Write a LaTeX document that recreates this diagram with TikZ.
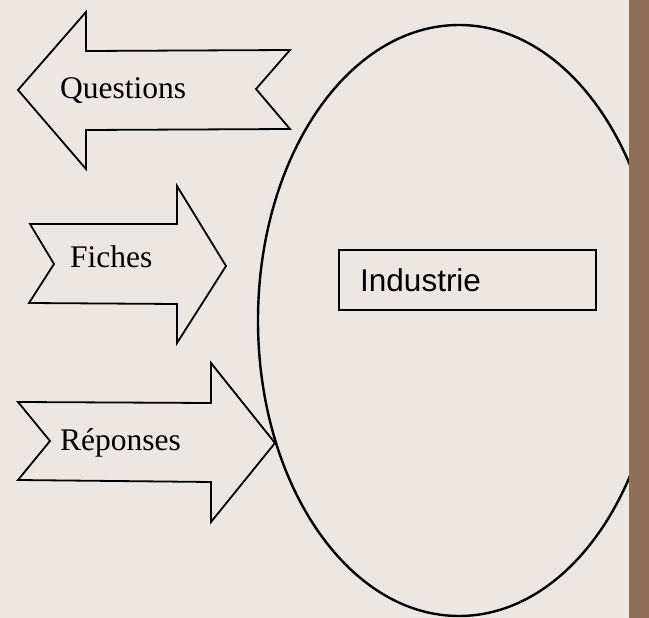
\documentclass[tikz,border=0pt]{standalone}
\usepackage{fontspec}
\setmainfont{Liberation Serif}
\newfontfamily\arialf{Liberation Sans}
\definecolor{bgc}{RGB}{236,231,227}
\definecolor{barc}{RGB}{141,110,90}
\begin{document}
\begin{tikzpicture}[x=1pt,y=-1pt,
  shapeline/.style={draw=black,line width=1.8pt,line join=miter,fill=bgc},
  lbl/.style={anchor=base west,inner sep=0pt,font=\fontsize{31.5}{36}\selectfont},
  lbls/.style={anchor=base west,inner sep=0pt,font=\arialf\fontsize{31.5}{36}\selectfont}]
\fill[bgc] (0,0) rectangle (649,618);
\useasboundingbox (0,0) rectangle (649,618);
% ellipse
\draw[line width=2.4pt] (459,320.5) ellipse [x radius=201, y radius=295.5];
% brown bar
\fill[barc] (629,0) rectangle (649,618);
% Questions arrow (left)
\draw[shapeline] (18,90) -- (86,12) -- (86,51) -- (290,50) -- (256,89) -- (290,129) -- (86,130) -- (86,169) -- cycle;
\node[lbl] (q) at (60,99) {Questions};
% Fiches arrow (right)
\draw[shapeline] (30,224) -- (177,224) -- (177,186) -- (226,266) -- (177,343) -- (177,304) -- (29,303) -- (54,264) -- cycle;
\node[lbl] (f) at (70,267) {Fiches};
% Reponses arrow (right)
\draw[shapeline] (18,402) -- (211,403) -- (211,363) -- (275,443) -- (211,522) -- (211,482) -- (18,480) -- (50,441) -- cycle;
\node[lbl] (r) at (60,450) {Réponses};
% Industrie box
\node[draw,line width=1.5pt,minimum width=257pt,minimum height=60pt,inner sep=0pt,anchor=north west] (box) at (338,249) {};
\node[lbls] (ind) at (360,291) {Industrie};
\end{tikzpicture}
\end{document}
